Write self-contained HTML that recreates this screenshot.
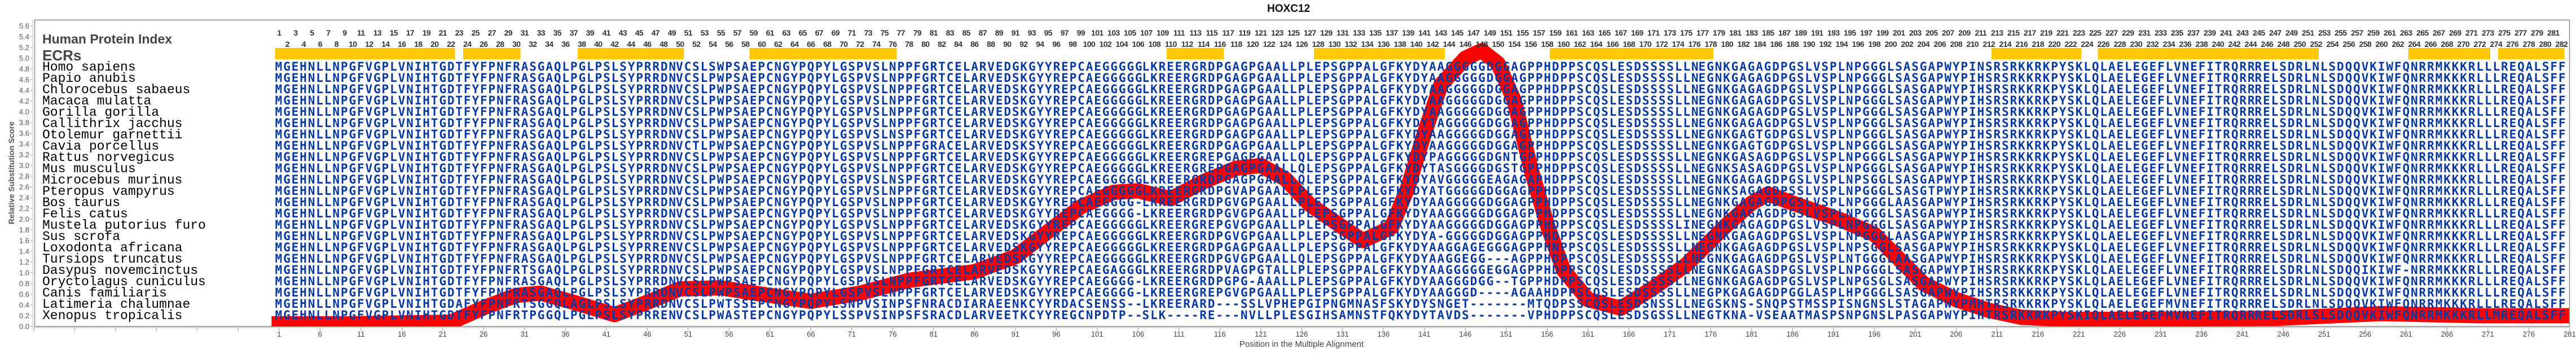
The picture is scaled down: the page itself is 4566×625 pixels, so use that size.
<!DOCTYPE html>
<html><head><meta charset="utf-8"><style>
html,body{margin:0;padding:0;background:#fff;}
body{width:4566px;height:625px;position:relative;overflow:hidden;}
svg{position:absolute;left:0;top:0;}
.s{font:bold 21px "DejaVu Sans Mono","Liberation Mono",monospace;fill:#0a3a9f;}
.n{font:23px "Liberation Mono",monospace;fill:#000;}
.row{position:absolute;display:flex;white-space:nowrap;}
.row i{font-style:normal;flex:none;text-align:center;}
.hn{font:bold 14px "Liberation Sans",sans-serif;color:#333;letter-spacing:-0.6px;line-height:14px;}
.hn i{width:29px;}
.bx{font:13px "Liberation Sans",sans-serif;color:#444;line-height:13px;}
.bx i{width:72.5px;}
</style></head><body>
<svg width="4566" height="625" viewBox="0 0 4566 625" xmlns="http://www.w3.org/2000/svg">
<defs><clipPath id="pc"><rect x="62" y="36" width="4492" height="542"/></clipPath></defs>
<text x="2284" y="21" text-anchor="middle" font-family="Liberation Sans, sans-serif" font-weight="bold" font-size="19" fill="#111">HOXC12</text>
<rect x="61.5" y="35.5" width="4493" height="542.5" fill="none" stroke="#8a8a8a" stroke-width="1.5"/>
<line x1="58" y1="35" x2="58" y2="579" stroke="#bbb" stroke-width="1"/>
<line x1="56" y1="45.5" x2="56" y2="580" stroke="#999" stroke-width="4" stroke-dasharray="1 18"/>
<line x1="58" y1="580" x2="4555" y2="580" stroke="#bbb" stroke-width="1"/>
<line x1="59.3" y1="583" x2="4556" y2="583" stroke="#999" stroke-width="6" stroke-dasharray="1 71.5"/>
<g font-family="Liberation Sans, sans-serif" font-size="13" fill="#555" text-anchor="end">
<text x="52" y="50.5">5.6</text><text x="52" y="69.5">5.4</text><text x="52" y="88.5">5.2</text><text x="52" y="107.5">5.0</text><text x="52" y="126.5">4.8</text><text x="52" y="145.5">4.6</text><text x="52" y="164.5">4.4</text><text x="52" y="183.5">4.2</text><text x="52" y="202.5">4.0</text><text x="52" y="221.5">3.8</text><text x="52" y="240.5">3.6</text><text x="52" y="259.5">3.4</text><text x="52" y="278.5">3.2</text><text x="52" y="297.5">3.0</text><text x="52" y="316.5">2.8</text><text x="52" y="335.5">2.6</text><text x="52" y="354.5">2.4</text><text x="52" y="373.5">2.2</text><text x="52" y="392.5">2.0</text><text x="52" y="411.5">1.8</text><text x="52" y="430.5">1.6</text><text x="52" y="449.5">1.4</text><text x="52" y="468.5">1.2</text><text x="52" y="487.5">1.0</text><text x="52" y="506.5">0.8</text><text x="52" y="525.5">0.6</text><text x="52" y="544.5">0.4</text><text x="52" y="563.5">0.2</text><text x="52" y="582.5">0.0</text>
</g>
<text transform="translate(25,306) rotate(-90)" text-anchor="middle" font-family="Liberation Sans, sans-serif" font-weight="bold" font-size="14" fill="#555">Relative Substitution Score</text>
<text x="2307" y="614" text-anchor="middle" font-family="Liberation Sans, sans-serif" font-size="15" fill="#444">Position in the Multiple Alignment</text>
<text x="75" y="77" font-family="Liberation Sans, sans-serif" font-weight="bold" font-size="23" fill="#444">Human Protein Index</text>
<text x="75" y="107" font-family="Liberation Sans, sans-serif" font-weight="bold" font-size="26" fill="#444">ECRs</text>
<g fill="#ffc800">
<rect x="487.5" y="85" width="319" height="20"/>
<rect x="821" y="85" width="101.5" height="20"/>
<rect x="1023.8" y="85" width="188.5" height="20"/>
<rect x="1328.5" y="85" width="261" height="20"/>
<rect x="2068" y="85" width="101.5" height="20"/>
<rect x="2329" y="85" width="232" height="20"/>
<rect x="2747" y="85" width="290" height="20"/>
<rect x="3530" y="85" width="159.5" height="20"/>
<rect x="3718.5" y="85" width="391.5" height="20"/>
<rect x="4269" y="85" width="145" height="20"/>
<rect x="4428" y="85" width="117.5" height="20"/>
</g>
<g clip-path="url(#pc)">
<polyline fill="none" stroke="#ff0000" stroke-width="27" stroke-linejoin="round" stroke-linecap="square" points="494.8,573.2 625.3,573.2 799.3,570.4 857.3,544.8 915.3,522.9 958.8,519.1 1016.8,535.3 1089.3,557.1 1147.3,535.3 1205.3,511.5 1277.8,509.6 1350.3,521 1437.3,533.4 1524.3,519.1 1611.3,496.3 1727.3,481.1 1799.8,454.5 1857.8,409.9 1915.8,366.2 1973.8,340.5 2017.3,337.7 2075.3,351.9 2133.3,321.5 2191.3,297.8 2234.8,293 2278.3,316.8 2321.8,362.4 2379.8,402.3 2416.1,426 2466.8,402.3 2495.8,331 2524.8,236 2553.8,150.5 2597.3,103 2626.3,89.7 2655.3,112.5 2684.3,179 2713.3,297.8 2742.3,397.5 2771.3,478.3 2814.8,530.5 2872.8,545.7 2930.8,509.6 2988.8,468.8 3061.3,397.5 3104.8,359.5 3133.8,343.4 3177.3,359.5 3264.3,389.9 3322.3,414.6 3365.8,458.3 3409.3,502 3467.3,530.5 3525.3,549.5 3583.3,561.9 3670.3,565.7 4032.8,563.8 4221.3,555.2 4395.3,559 4540.3,559"/>
</g>
<g class="n">
<text x="75" y="125">Homo sapiens</text><text x="75" y="145">Papio anubis</text><text x="75" y="165">Chlorocebus sabaeus</text><text x="75" y="185">Macaca mulatta</text><text x="75" y="205">Gorilla gorilla</text><text x="75" y="225">Callithrix jacchus</text><text x="75" y="245">Otolemur garnettii</text><text x="75" y="265">Cavia porcellus</text><text x="75" y="285">Rattus norvegicus</text><text x="75" y="305">Mus musculus</text><text x="75" y="325">Microcebus murinus</text><text x="75" y="345">Pteropus vampyrus</text><text x="75" y="365">Bos taurus</text><text x="75" y="385">Felis catus</text><text x="75" y="405">Mustela putorius furo</text><text x="75" y="425">Sus scrofa</text><text x="75" y="445">Loxodonta africana</text><text x="75" y="465">Tursiops truncatus</text><text x="75" y="485">Dasypus novemcinctus</text><text x="75" y="505">Oryctolagus cuniculus</text><text x="75" y="525">Canis familiaris</text><text x="75" y="545">Latimeria chalumnae</text><text x="75" y="565">Xenopus tropicalis</text>
</g>
<g class="s" lengthAdjust="spacing">
<g transform="translate(0,125)"><text x="487.55" textLength="710.5">MGEHNLLNPGFVGPLVNIHTGDTFYFPNFRASGAQLPGLPSLSYPRRDN</text><text x="1198.05" textLength="826.5">VCSLSWPSAEPCNGYPQPYLGSPVSLNPPFGRTCELARVEDGKGYYREPCAEGGGGG</text><text x="2024.55" textLength="986">LKREERGRDPGAGPGAALLPLEPSGPPALGFKYDYAAGGGGGDGGAGPPHDPPSCQSLESDSSSSLLN</text><text x="3010.55" textLength="986">EGNKGAGAGDPGSLVSPLNPGGGLSASGAPWYPINSRSRKKRKPYSKLQLAELEGEFLVNEFITRQRR</text><text x="3996.55" textLength="551">RELSDRLNLSDQQVKIWFQNRRMKKKRLLLREQALSFF</text></g>
<g transform="translate(0,145)"><text x="487.55" textLength="710.5">MGEHNLLNPGFVGPLVNIHTGDTFYFPNFRASGAQLPGLPSLSYPRRDN</text><text x="1198.05" textLength="826.5">VCSLPWPSAEPCNGYPQPYLGSPVSLNPPFGRTCELARVEDSKGYYREPCAEGGGGG</text><text x="2024.55" textLength="986">LKREERGRDPGAGPGAALLPLEPSGPPALGFKYDYAAGGGGGDGGAGPPHDPPSCQSLESDSSSSLLN</text><text x="3010.55" textLength="986">EGNKGAGAGDPGSLVSPLNPGGGLSASGAPWYPIHSRSRKKRKPYSKLQLAELEGEFLVNEFITRQRR</text><text x="3996.55" textLength="551">RELSDRLNLSDQQVKIWFQNRRMKKKRLLLREQALSFF</text></g>
<g transform="translate(0,165)"><text x="487.55" textLength="710.5">MGEHNLLNPGFVGPLVNIHTGDTFYFPNFRASGAQLPGLPSLSYPRRDN</text><text x="1198.05" textLength="826.5">VCSLPWPSAEPCNGYPQPYLGSPVSLNPPFGRTCELARVEDSKGYYREPCAEGGGGG</text><text x="2024.55" textLength="986">LKREERGRDPGAGPGAALLPLEPSGPPALGFKYDYAAGGGGGDGGAGPPHDPPSCQSLESDSSSSLLN</text><text x="3010.55" textLength="986">EGNKGAGAGDPGSLVSPLNPGGGLSASGAPWYPIHSRSRKKRKPYSKLQLAELEGEFLVNEFITRQRR</text><text x="3996.55" textLength="551">RELSDRLNLSDQQVKIWFQNRRMKKKRLLLREQALSFF</text></g>
<g transform="translate(0,185)"><text x="487.55" textLength="710.5">MGEHNLLNPGFVGPLVNIHTGDTFYFPNFRASGAQLPGLPSLSYPRRDN</text><text x="1198.05" textLength="826.5">VCSLPWPSAEPCNGYPQPYLGSPVSLNPPFGRTCELARVEDSKGYYREPCAEGGGGG</text><text x="2024.55" textLength="986">LKREERGRDPGAGPGAALLPLEPSGPPALGFKYDYAAGGGGGDGGAGPPHDPPSCQSLESDSSSSLLN</text><text x="3010.55" textLength="986">EGNKGAGAGDPGSLVSPLNPGGGLSASGAPWYPIHSRSRKKRKPYSKLQLAELEGEFLVNEFITRQRR</text><text x="3996.55" textLength="551">RELSDRLNLSDQQVKIWFQNRRMKKKRLLLREQALSFF</text></g>
<g transform="translate(0,205)"><text x="487.55" textLength="710.5">MGEHNLLNPGFVGPLVNIHTGDTFYFPNFRASGAQLPGLPSLSYPRRDN</text><text x="1198.05" textLength="826.5">VCSLPWPSAEPCNGYPQPYLGSPVSLNPPFGRTCELARVEDSKGYYREPCAEGGGGG</text><text x="2024.55" textLength="986">LKREERGRDPGAGPGAALLPLEPSGPPALGFKYDYAAGGGGGDGGAGPPHDPPSCQSLESDSSSSLLN</text><text x="3010.55" textLength="986">EGNKGAGAGDPGSLVSPLNPGGGLSASGAPWYPIHSRSRKKRKPYSKLQLAELEGEFLVNEFITRQRR</text><text x="3996.55" textLength="551">RELSDRLNLSDQQVKIWFQNRRMKKKRLLLREQALSFF</text></g>
<g transform="translate(0,225)"><text x="487.55" textLength="710.5">MGEHNLLNPGFVGPLVNIHTGDTFYFPNFRASGAQLPGLPSLSYPRRDN</text><text x="1198.05" textLength="826.5">VCSLPWPSAEPCNGYPQPYLGSPVSLNPPFGRTCELARVEDSKGYYREPCAEGGGGG</text><text x="2024.55" textLength="986">LKREERGRDPGAGPGAALLPLEPSGPPALGFKYDYTAGGGGGDGGAGPPHDPPSCQSLESDSSSSLLN</text><text x="3010.55" textLength="986">EGNKGAGAGDPGSLVSPLNPGGGLSASGAPWYPIHSRSRKKRKPYSKLQLAELEGEFLVNEFITRQRR</text><text x="3996.55" textLength="551">RELSDRLNLSDQQVKIWFQNRRMKKKRLLLREQALSFF</text></g>
<g transform="translate(0,245)"><text x="487.55" textLength="710.5">MGEHNLLNPGFVGPLVNIHTGDTFYFPNFRASGAQLPGLPSLSYPRRDN</text><text x="1198.05" textLength="826.5">VCSLPWPSAEPCNGYPQPYLGSPVSLNSPFGRTCELARVEDSKGYYREPCAEGGGGG</text><text x="2024.55" textLength="986">LKREERGRDPGAGPGAALLPLEPSGPPALGFKYDYAAGGGGGDGGAGPPHDPPSCQSLESDSSSSLLN</text><text x="3010.55" textLength="986">EGNKGAGTGDPGSLVSPLNPGGGLSASGAPWYPIHSRSRKKRKPYSKLQLAELEGEFLVNEFITRQRR</text><text x="3996.55" textLength="551">RELSDRLNLSDQQVKIWFQNRRMKKKRLLLREQALSFF</text></g>
<g transform="translate(0,265)"><text x="487.55" textLength="710.5">MGEHNLLNPGFVGPLVNIHTGDTFYFPNFRASGAQLPGLPSLSYPRRDN</text><text x="1198.05" textLength="826.5">VCTLPWPSAEPCNGYPQPYLGSPVSLNPPFGRACELARVEDSKSYYREPCAEGGGGG</text><text x="2024.55" textLength="986">LKREERGRDPGAGPGAALLPLEPSGPPALGFKYDYAAGGGGGDGGAGPPHDPPSCQSLESDSSSSLLN</text><text x="3010.55" textLength="986">EGNKGAGTGDPGSLVSPLNPGGGLSASGAPWYPIHSRSRKKRKPYSKLQLAELEGEFLVNEFITRQRR</text><text x="3996.55" textLength="551">RELSDRLNLSDQQVKIWFQNRRMKKKRLLLREQALSFF</text></g>
<g transform="translate(0,285)"><text x="487.55" textLength="710.5">MGEHNLLNPGFVGPLVNIHTGDTFYFPNFRASGAQLPGLPSLSYPRRDN</text><text x="1198.05" textLength="826.5">VCSLPWPSAEPCNGYPQPYLGSPVSLNPPFGRTCELARVEDSKGYYREPCAEGGGGG</text><text x="2024.55" textLength="986">LKREERGREPGAGPGAALLQLEPSGPPALGFKYDYPAGGGGGDGNTGPPHDPPSCQSLESDSSSSLLN</text><text x="3010.55" textLength="986">EGNKGASAGDPGSLVSPLNPGGGLSASGAPWYPIHSRSRKKRKPYSKLQLAELEGEFLVNEFITRQRR</text><text x="3996.55" textLength="551">RELSDRLNLSDQQVKIWFQNRRMKKKRLLLREQALSFF</text></g>
<g transform="translate(0,305)"><text x="487.55" textLength="710.5">MGEHNLLNPGFVGPLVNIHTGDTFYFPNFRASGAQLPGLPSLSYPRRDN</text><text x="1198.05" textLength="826.5">VCSLPWPSAEPCNGYPQPYLGSPVSLNPPFGRTCELARVEDSKGYYREPCAEGGGGG</text><text x="2024.55" textLength="986">LKREERGREPGAGPGAALLQLEPSGPPALGFKYDYTASGGGGDGSTGPPHDPPSCQSLESDSSSSLLN</text><text x="3010.55" textLength="986">EGNKSASAGDPGSLVSPLNPGGGLSASGAPWYPIHSRSRKKRKPYSKLQLAELEGEFLVNEFITRQRR</text><text x="3996.55" textLength="551">RELSDRLNLSDQQVKIWFQNRRMKKKRLLLREQALSFF</text></g>
<g transform="translate(0,325)"><text x="487.55" textLength="710.5">MGEHNLLNPGFVGPLVNIHTGDTFYFPNFRASGAQLPGLPSLSYPRRDN</text><text x="1198.05" textLength="826.5">VCSLPWPSAEPCNGYPQPYLGSPVSLNSPFGRTCELARVEDSKGYYREPCAEGGGGG</text><text x="2024.55" textLength="986">LKREERGRDPGAGPGAALLQLEPSGPPALGFKYDYAVGGGGGEAGAGAPHDPPSCQSLESDSSSSLLN</text><text x="3010.55" textLength="986">EGNKGAGAGDPGSLVSPLNPSGGLSASGAPWYPIHSRSRKKRKPYSKLQLAELEGEFLVNEFITRQRR</text><text x="3996.55" textLength="551">RELSDRLNLSDQQVKIWFQNRRMKKKRLLLREQALSFF</text></g>
<g transform="translate(0,345)"><text x="487.55" textLength="710.5">MGEHNLLNPGFVGPLVNIHTGDTFYFPNFRASGAQLPGLPSLSYPRRDN</text><text x="1198.05" textLength="826.5">VCSLPWPSAEPCNGYPQPYLGSPVSLNPPFGRTCELARVEDSKGYYREPCAEGGGGG</text><text x="2024.55" textLength="986">LKREERGRDPGVAPGAALLPLEPSGPPALGFKYDYATGGGGGDGGAGPPHDPPSCQSLESDSSSSLLN</text><text x="3010.55" textLength="986">EGNKSAGAGDPSSLVSPLNPGGGLSASGTPWYPIHSRSRKKRKPYSKLQLAELEGEFLVNEFITRQRR</text><text x="3996.55" textLength="551">RELSDRLNLSDQQVKIWFQNRRMKKKRLLLREQALSFF</text></g>
<g transform="translate(0,365)"><text x="487.55" textLength="710.5">MGEHNLLNPGFVGPLVNIHTGDTFYFPNFRASGAQLPGLPSLSYPRRDN</text><text x="1198.05" textLength="826.5">VCSLPWPSAEPCNGYPQPYLGSPVSLNPPFGRTCELARVEDSKGYYREPCAEGGGG-</text><text x="2024.55" textLength="986">LKREERGRDPGVGPGAALLPLEPSGPPALGFKYDYAAGGGGGDGGAGPPHDPPSCQSLESDSSSSLLN</text><text x="3010.55" textLength="986">EGNKGAGAGDPGSLVSPLNPGGGLAASGAPWYPIHSRSRKKRKPYSKLQLAELEGEFLVNEFITRQRR</text><text x="3996.55" textLength="551">RELSDRLNLSDQQVKIWFQNRRMKKKRLLLREQALSFF</text></g>
<g transform="translate(0,385)"><text x="487.55" textLength="710.5">MGEHNLLNPGFVGPLVNIHTGDTFYFPNFRASGAQLPGLPSLSYPRRDN</text><text x="1198.05" textLength="826.5">VCSLPWPSAEPCNGYPQPYLGSPVSLNPPFGRTCELARVEDSKGYYREPCAEGGGG-</text><text x="2024.55" textLength="986">LKREERGRDPGVGPGAALLPLEPSGPPALGFKYDYAAGGGGGDGGAGPPHDPPSCQSLESDSSSSLLN</text><text x="3010.55" textLength="986">EGNKGAGAGDPGSLVSPLNPGGGLSASGAPWYPIHSRSRKKRKPYSKLQLAELEGEFLVNEFITRQRR</text><text x="3996.55" textLength="551">RELSDRLNLSDQQVKIWFQNRRMKKKRLLLREQALSFF</text></g>
<g transform="translate(0,405)"><text x="487.55" textLength="710.5">MGEHNLLNPGFVGPLVNIHTGDTFYFPNFRASGAQLPGLPSLSYPRRDN</text><text x="1198.05" textLength="826.5">VCSLPWPSAEPCNGYPQPYLGSPVSLNPPFGRTCELARVEDSKGYYREPCAEGGGGG</text><text x="2024.55" textLength="986">LKREERGREPGVGPGAALLPLEPSGPPALGFKYDYAAGGGGGDGGAGPPHDPPSCQSLESDSSSSLIN</text><text x="3010.55" textLength="986">EGNKGAGAGDPGSLVSPLNPGGGLSASGAPWYPIHSRSRKKRKPYSKLQLAELEGEFLVNEFITRQRR</text><text x="3996.55" textLength="551">RELSDRLNLSDQQVKIWFQNRRMKKKRLLLREQALSFF</text></g>
<g transform="translate(0,425)"><text x="487.55" textLength="710.5">MGEHNLLNPGFVGPLVNIHTGDTFYFPNFRASGAQLPGLPSLSYPRRDN</text><text x="1198.05" textLength="826.5">VCSLPWPSAEPCNGYPQPYLGSPVSLNPPFGRTCELARVEDSKGYYREPCAEGGGGG</text><text x="2024.55" textLength="986">LKREERGRDPGVGPGAALLPLEPSGPPALGFKYDYA-GGGGGDGGAGPPHDPPSCQSLESDSSSSLLN</text><text x="3010.55" textLength="986">EGNKGAGAGDPGSLVSPLNPGGGLAASGAPWYPIHSRSRKKRKPYSKLQLAELEGEFLVNEFITRQRR</text><text x="3996.55" textLength="551">RELSDRLNLSDQQVKIWFQNRRMKKKRLLLREQALSFF</text></g>
<g transform="translate(0,445)"><text x="487.55" textLength="710.5">MGEHNLLNPGFVGPLVNIHTGDTFYFPNFRASGAQLPGLPSLSYPRREN</text><text x="1198.05" textLength="826.5">VCSLPWPSAEPCNGYPQPYLGSPVSLNPPFGRTCELARVEDSKGYYREPCAEGGGGG</text><text x="2024.55" textLength="986">LKREERGRDPGAGPGAALLPLEPSGPPALGFKYDYAAGGAGEGGGAGPPHNPPSCQSLESDSSSSLLN</text><text x="3010.55" textLength="986">EGNKGAGAGDPGSLVSPLNPSGGLSASGAPWYPIHSRSRKKRKPYSKLQLAELEGEFLVNEFITRQRR</text><text x="3996.55" textLength="551">RELSDRLNLSDQQVKIWFQNRRMKKKRLLLREQALSFF</text></g>
<g transform="translate(0,465)"><text x="487.55" textLength="710.5">MGEHNLLNPGFVGPLVNIHTGDTFYFPNFRASGAQLPGLPSLSYPRRDN</text><text x="1198.05" textLength="826.5">VCSLPWPSAEPCNGYPQPYLGSPVSLNPPFGRTCELARVEDSKGYYREPCAEGGGGG</text><text x="2024.55" textLength="986">LKREERGRDPGVGPGAALLQLEPSGPPALGFKYDYAAGGEGG---AGPPHDPPSCQSLESDSSSSLLN</text><text x="3010.55" textLength="986">EGNKGAGAGDPGSLVSPLNTGGGLAASGAPWYPIHSRSRKKRKPYSKLQLAELEGEFLVNEFITRQRR</text><text x="3996.55" textLength="551">RELSDRLNLSDQQVKIWFQNRRMKKKRLLLREQALSFF</text></g>
<g transform="translate(0,485)"><text x="487.55" textLength="710.5">MGEHNLLNPGFVGPLVNIHTGDTFYFPNFRTSGAQLPGLPSLSYPRRDN</text><text x="1198.05" textLength="826.5">VCSLPWPSAEPCNGYPQPYLGSPVSLNPPFGRTCELARVEDSKGYYREPCAEGAGGG</text><text x="2024.55" textLength="986">LKREERGRDPVAGPGTALLPLEPSGPPALGFKYDYAAGGGGGEGGAGPPHDPPSCQSLESDSSSSLLN</text><text x="3010.55" textLength="986">EGNKGAGASDPGSLVSPLNPGGGLSASGAPWYPIHSRSRKKRKPYSKLQLAELEGEFLVNEFITRQRR</text><text x="3996.55" textLength="551">RELSDRLNLSDQQIKIWF-NRRMKKKRLLLREQALSFF</text></g>
<g transform="translate(0,505)"><text x="487.55" textLength="710.5">MGEHNLLNPGFVGPLVNIHTGDTFYFPNFRASGAQLPGLPSLSYPRRDN</text><text x="1198.05" textLength="826.5">VCSLPWPSAEPCNGYPQPYLGSPVSLNPPFGRTCELARVEDSKGYYREPCAEGGGG-</text><text x="2024.55" textLength="986">LKREERGRDPGPG-AAALLPLEPSGPPALGFKYDYAAGGGDGG--TGPPHDPPSCQSLESDSSSSLLN</text><text x="3010.55" textLength="986">EGNKGAGAGDPGSLVSPLNPGSGLSASGAPWYPIHSRSRKKRKPYSKLQLAELEGEFLVNEFITRQRR</text><text x="3996.55" textLength="551">RELSDRLNLSDQQVKIWFQNRRMKKKRLLLREQALSFF</text></g>
<g transform="translate(0,525)"><text x="487.55" textLength="710.5">MGEHNLLNPGFVGPLVNIHTGDTFYFPNFRASGAQLPGLPSLSYPRRDN</text><text x="1198.05" textLength="826.5">VCSLPWPSAEPCNGYPQPYLGSPVSLNPPFGRTCELARVEDSKGYYREPCAEGGGG-</text><text x="2024.55" textLength="986">LKREERGREPGVGPGAALLPLEPSGPPALGFKYDYAAGGGD----AGAAHDPPSCQSLESDSSSSLLN</text><text x="3010.55" textLength="986">EGPKGAGAGDPGGLASPLHPGGGLSASGAPWYPIHSRSRKKRKPYSKLQLAELEGEFLVNEFITRQRR</text><text x="3996.55" textLength="551">RELSDRLNLSDQQVKIWFQNRRMKKKRLLLREQALSFF</text></g>
<g transform="translate(0,545)"><text x="487.55" textLength="710.5">MGEHNLLNPGFVGPLVNIHTGDAFYFPNFRTSGGQLAGLPSLSYPRRDN</text><text x="1198.05" textLength="826.5">VCSLPWTSSEPCNGYPQPYLSNPVSINPSFNRACDIARAEENKCYYRDACSENSS--</text><text x="2024.55" textLength="986">LKREERARD---SSLVPHEPGIPNGMNASFSKYDYSNGET-------MTQDPSSCQSLESDSNSSLLN</text><text x="3010.55" textLength="986">EGSKNS-SNQPSTMSSPISNGNSLSTAGAPWYPMHTRSRKKRKPYSKLQLAELEGEFMVNEFITRQRR</text><text x="3996.55" textLength="551">RELSDRLNLSDQQVKIWFQNRRMKKKRLLLREQALSFF</text></g>
<g transform="translate(0,565)"><text x="487.55" textLength="710.5">MGEHNLLNPGFVGPLVNIHTGDTFYFPNFRTPGGQLPGLPSLSYPRREN</text><text x="1198.05" textLength="826.5">VCSLPWASTEPCNGYPQPYLSSPVSINPSFSRACDLARVEETKCYYREGCNPDTP--</text><text x="2024.55" textLength="986">SLK----RE---NVLLPLESGIHSAMNSTFQKYDYTAVDS-------VPHDPPSCQSLESDSGSSLLN</text><text x="3010.55" textLength="986">EGTKNA-VSEAATMASPSNPGNSLPASGAPWYPIHTRSRKKRKPYSKIQLAELEGEFMVNEFITRQRR</text><text x="3996.55" textLength="551">RELSDRLSLSDQQVKIWFQNRRMKKKRLLMREQALSFF</text></g>
</g>
</svg>
<div class="row hn" style="left:480.3px;top:51px;"><i>1</i><i>3</i><i>5</i><i>7</i><i>9</i><i>11</i><i>13</i><i>15</i><i>17</i><i>19</i><i>21</i><i>23</i><i>25</i><i>27</i><i>29</i><i>31</i><i>33</i><i>35</i><i>37</i><i>39</i><i>41</i><i>43</i><i>45</i><i>47</i><i>49</i><i>51</i><i>53</i><i>55</i><i>57</i><i>59</i><i>61</i><i>63</i><i>65</i><i>67</i><i>69</i><i>71</i><i>73</i><i>75</i><i>77</i><i>79</i><i>81</i><i>83</i><i>85</i><i>87</i><i>89</i><i>91</i><i>93</i><i>95</i><i>97</i><i>99</i><i>101</i><i>103</i><i>105</i><i>107</i><i>109</i><i>111</i><i>113</i><i>115</i><i>117</i><i>119</i><i>121</i><i>123</i><i>125</i><i>127</i><i>129</i><i>131</i><i>133</i><i>135</i><i>137</i><i>139</i><i>141</i><i>143</i><i>145</i><i>147</i><i>149</i><i>151</i><i>155</i><i>157</i><i>159</i><i>161</i><i>163</i><i>165</i><i>167</i><i>169</i><i>171</i><i>173</i><i>175</i><i>177</i><i>179</i><i>181</i><i>183</i><i>185</i><i>187</i><i>189</i><i>191</i><i>193</i><i>195</i><i>197</i><i>199</i><i>201</i><i>203</i><i>205</i><i>207</i><i>209</i><i>211</i><i>213</i><i>215</i><i>217</i><i>219</i><i>221</i><i>223</i><i>225</i><i>227</i><i>229</i><i>231</i><i>233</i><i>235</i><i>237</i><i>239</i><i>241</i><i>243</i><i>245</i><i>247</i><i>249</i><i>251</i><i>253</i><i>255</i><i>257</i><i>259</i><i>261</i><i>263</i><i>265</i><i>267</i><i>269</i><i>271</i><i>273</i><i>275</i><i>277</i><i>279</i><i>281</i></div>
<div class="row hn" style="left:494.8px;top:71px;"><i>2</i><i>4</i><i>6</i><i>8</i><i>10</i><i>12</i><i>14</i><i>16</i><i>18</i><i>20</i><i>22</i><i>24</i><i>26</i><i>28</i><i>30</i><i>32</i><i>34</i><i>36</i><i>38</i><i>40</i><i>42</i><i>44</i><i>46</i><i>48</i><i>50</i><i>52</i><i>54</i><i>56</i><i>58</i><i>60</i><i>62</i><i>64</i><i>66</i><i>68</i><i>70</i><i>72</i><i>74</i><i>76</i><i>78</i><i>80</i><i>82</i><i>84</i><i>86</i><i>88</i><i>90</i><i>92</i><i>94</i><i>96</i><i>98</i><i>100</i><i>102</i><i>104</i><i>106</i><i>108</i><i>110</i><i>112</i><i>114</i><i>116</i><i>118</i><i>120</i><i>122</i><i>124</i><i>126</i><i>128</i><i>130</i><i>132</i><i>134</i><i>136</i><i>138</i><i>140</i><i>142</i><i>144</i><i>146</i><i>148</i><i>150</i><i>154</i><i>156</i><i>158</i><i>160</i><i>162</i><i>164</i><i>166</i><i>168</i><i>170</i><i>172</i><i>174</i><i>176</i><i>178</i><i>180</i><i>182</i><i>184</i><i>186</i><i>188</i><i>190</i><i>192</i><i>194</i><i>196</i><i>198</i><i>200</i><i>202</i><i>204</i><i>206</i><i>208</i><i>210</i><i>212</i><i>214</i><i>216</i><i>218</i><i>220</i><i>222</i><i>224</i><i>226</i><i>228</i><i>230</i><i>232</i><i>234</i><i>236</i><i>238</i><i>240</i><i>242</i><i>244</i><i>246</i><i>248</i><i>250</i><i>252</i><i>254</i><i>256</i><i>258</i><i>260</i><i>262</i><i>264</i><i>266</i><i>268</i><i>270</i><i>272</i><i>274</i><i>276</i><i>278</i><i>280</i><i>282</i></div>
<div class="row bx" style="left:458.55px;top:585px;"><i>1</i><i>6</i><i>11</i><i>16</i><i>21</i><i>26</i><i>31</i><i>36</i><i>41</i><i>46</i><i>51</i><i>56</i><i>61</i><i>66</i><i>71</i><i>76</i><i>81</i><i>86</i><i>91</i><i>96</i><i>101</i><i>106</i><i>111</i><i>116</i><i>121</i><i>126</i><i>131</i><i>136</i><i>141</i><i>146</i><i>151</i><i>156</i><i>161</i><i>166</i><i>171</i><i>176</i><i>181</i><i>186</i><i>191</i><i>196</i><i>201</i><i>206</i><i>211</i><i>216</i><i>221</i><i>226</i><i>231</i><i>236</i><i>241</i><i>246</i><i>251</i><i>256</i><i>261</i><i>266</i><i>271</i><i>276</i><i>281</i></div>
</body></html>
